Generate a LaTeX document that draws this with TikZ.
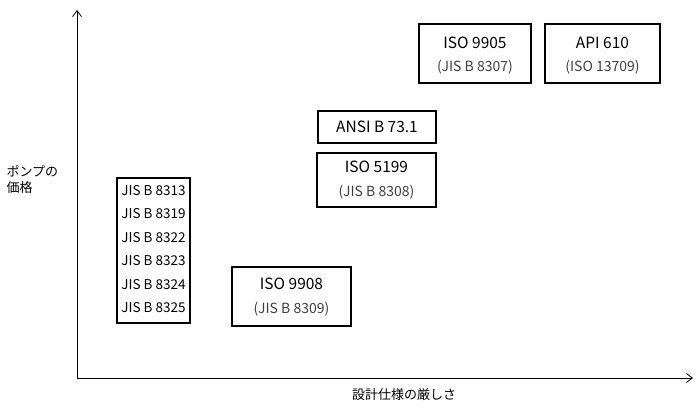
\documentclass[tikz,border=0pt]{standalone}
\usepackage{fontspec}
\usetikzlibrary{arrows.meta}
\setmainfont{Noto Sans CJK JP}
\begin{document}
\begin{tikzpicture}[x=1pt,y=-1pt,
  box/.style={draw,line width=1.8pt,inner sep=0pt},
  big/.style={font=\fontsize{15.5}{17}\selectfont},
  jis/.style={font=\fontsize{13.5}{16}\selectfont},
  small/.style={font=\fontsize{14}{16}\selectfont\color{black!75}}]
\useasboundingbox (0,0) rectangle (700,409);
\coordinate (o) at (77,378);
\coordinate (yt) at (77,10);
\coordinate (xt) at (693,378);
\draw[line width=0.8pt,-{Straight Barb[length=6pt,width=9pt]}] (o) -- (yt);
\draw[line width=0.8pt,-{Straight Barb[length=6pt,width=9pt]}] (o) -- (xt);
\node[font=\fontsize{13}{16}\selectfont,align=left,anchor=west] (yl) at (3,180) {ポンプの\\価格};
\node[font=\fontsize{13}{16}\selectfont] (xl) at (404,395) {設計仕様の厳しさ};

\node[box,minimum width=112pt,minimum height=59pt] (a) at (475,53.5) {};
\node[big] (a1) at (475,43) {ISO 9905};
\node[small] (a2) at (475,67) {(JIS B 8307)};

\node[box,minimum width=115pt,minimum height=59pt] (b) at (602.5,53.5) {};
\node[big] (b1) at (602.5,43) {API 610};
\node[small] (b2) at (602.5,67) {(ISO 13709)};

\node[box,minimum width=118pt,minimum height=32pt,big] (c) at (377,127) {ANSI B 73.1};

\node[box,minimum width=119pt,minimum height=54pt] (d) at (376.5,180) {};
\node[big] (d1) at (376.5,167) {ISO 5199};
\node[small] (d2) at (376.5,192) {(JIS B 8308)};

\node[box,minimum width=73pt,minimum height=145pt] (e) at (153.5,250.5) {};
\foreach \t [count=\i] in {8313,8319,8322,8323,8324,8325}
  \node[jis] (e\i) at (153.5,167+23.5*\i) {JIS B \t};

\node[box,minimum width=119pt,minimum height=59pt] (f) at (291.5,296.5) {};
\node[big] (f1) at (291.5,284) {ISO 9908};
\node[small] (f2) at (291.5,309) {(JIS B 8309)};
\end{tikzpicture}
\end{document}
